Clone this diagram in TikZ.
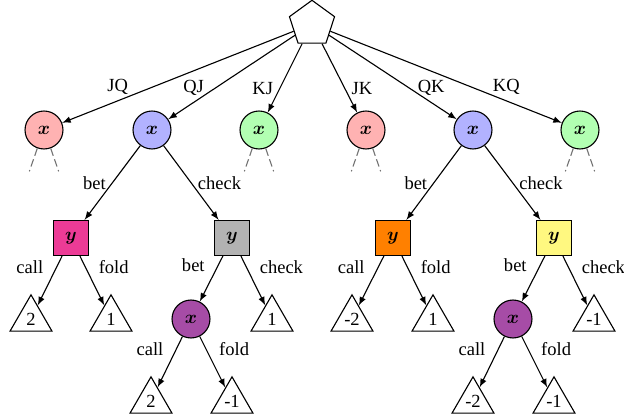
\documentclass[tikz,border=0pt]{standalone}
\usepackage{fontspec}
\setmainfont{Liberation Serif}
\usepackage{amsmath}
\usetikzlibrary{shapes.geometric}
\definecolor{hotpink}{RGB}{236,59,150}

\begin{document}
\begin{tikzpicture}[x=0.54pt, y=-0.54pt, >=latex, semithick,
		chance/.style = {draw, fill=white, regular polygon, regular polygon sides=5, minimum size=25.6pt, inner sep=0},
		xvert/.style = {draw, circle, minimum size=20.5pt, inner sep=0},
		yvert/.style = {draw, rectangle, minimum size=18.9pt, inner sep=0},
		leaf/.style = {draw, fill=white, regular polygon, regular polygon sides=3, minimum size=26.1pt, inner sep=0},
		stub/.style = {black!55, line width=0.6pt, dash pattern=on 4.2pt off 2pt},]
		\useasboundingbox (0,0) rectangle (624,419);

		\node[chance] (R) at (312,24) {};

		\node[xvert, fill=red!30] (A) at (44,130) {$\boldsymbol{x}$};
		\node[xvert, fill=blue!30] (B) at (152,130) {$\boldsymbol{x}$};
		\node[xvert, fill=green!30] (C) at (259,130) {$\boldsymbol{x}$};
		\node[xvert, fill=red!30] (D) at (366,130) {$\boldsymbol{x}$};
		\node[xvert, fill=blue!30] (E) at (473,130) {$\boldsymbol{x}$};
		\node[xvert, fill=green!30] (F) at (580,130) {$\boldsymbol{x}$};

		\node[yvert, fill=hotpink] (G) at (71,238) {$\boldsymbol{y}$};
		\node[yvert, fill=black!30] (H) at (232,238) {$\boldsymbol{y}$};
		\node[yvert, fill=orange] (I) at (393,238) {$\boldsymbol{y}$};
		\node[yvert, fill=yellow!50] (J) at (554,238) {$\boldsymbol{y}$};

		\node[leaf] (K) at (31,319) {2};
		\node[leaf] (L) at (111,319) {1};
		\node[xvert, fill=violet!70] (M) at (191,319) {$\boldsymbol{x}$};
		\node[leaf] (N) at (272,319) {1};
		\node[leaf] (O) at (352,319) {-2};
		\node[leaf] (P) at (433,319) {1};
		\node[xvert, fill=violet!70] (Q) at (513,319) {$\boldsymbol{x}$};
		\node[leaf] (S) at (594,319) {-1};

		\node[leaf] (T) at (151,401) {2};
		\node[leaf] (U) at (232,401) {-1};
		\node[leaf] (V) at (473,401) {-2};
		\node[leaf] (W) at (554,401) {-1};

		% deals
		\draw[->] (R) -- node[pos=0.76, above] {JQ} (A);
		\draw[->] (R) -- node[pos=0.8, above] {QJ} (B);
		\draw[->] (R) -- node[pos=0.65, left] {KJ} (C);
		\draw[->] (R) -- node[pos=0.65, right] {JK} (D);
		\draw[->] (R) -- node[pos=0.8, above] {QK} (E);
		\draw[->] (R) -- node[pos=0.76, above] {KQ} (F);

		% cut off subtrees
		\foreach \n in {A,C,D,F} {
			\draw[stub] (\n.-110) -- ++(-8,23);
			\draw[stub] (\n.-70) -- ++(8,23);
		}

		\draw[->] (B) -- node[left] {bet} (G);
		\draw[->] (B) -- node[right] {check} (H);
		\draw[->] (E) -- node[left] {bet} (I);
		\draw[->] (E) -- node[right] {check} (J);

		\draw[->] (G) -- node[above left] {call} (K);
		\draw[->] (G) -- node[above right] {fold} (L);
		\draw[->] (H) -- node[above left] {bet} (M);
		\draw[->] (H) -- node[above right] {check} (N);
		\draw[->] (I) -- node[above left] {call} (O);
		\draw[->] (I) -- node[above right] {fold} (P);
		\draw[->] (J) -- node[above left] {bet} (Q);
		\draw[->] (J) -- node[above right] {check} (S);

		\draw[->] (M) -- node[above left] {call} (T);
		\draw[->] (M) -- node[above right] {fold} (U);
		\draw[->] (Q) -- node[above left] {call} (V);
		\draw[->] (Q) -- node[above right] {fold} (W);
	\end{tikzpicture}
\end{document}
